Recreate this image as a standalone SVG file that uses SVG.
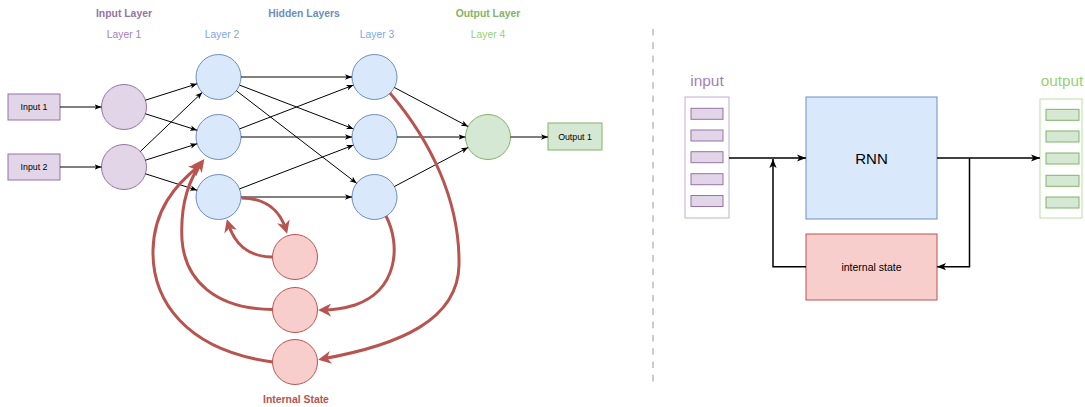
<svg xmlns="http://www.w3.org/2000/svg" width="1085" height="407" viewBox="0 0 1085 407">
<style>
text{font-family:"Liberation Sans",Arial,sans-serif;text-anchor:middle}
.pu{fill:#e1d5e7;stroke:#9673a6;stroke-width:1}
.bl{fill:#dae8fc;stroke:#6c8ebf;stroke-width:1}
.gr{fill:#d5e8d4;stroke:#82b366;stroke-width:1}
.rd{fill:#f8cecc;stroke:#b85450;stroke-width:1}
.e{fill:none;stroke:#000;stroke-width:1;marker-end:url(#ab)}
.r{fill:none;stroke:#b85450;stroke-width:3;marker-end:url(#ar)}
.k{fill:none;stroke:#000;stroke-width:1.5}
.ka{fill:none;stroke:#000;stroke-width:1.5;marker-end:url(#ak)}
.h{font-weight:bold;font-size:10.4px}
.l{font-size:10.3px}
</style>
<defs>
<marker id="ab" viewBox="0 0 10 10" markerUnits="userSpaceOnUse" markerWidth="7" markerHeight="7" refX="10" refY="5" orient="auto"><path d="M0,1 L10,5 L0,9 L2.5,5 z" fill="#000"/></marker>
<marker id="ak" viewBox="0 0 10 10" markerUnits="userSpaceOnUse" markerWidth="9" markerHeight="9" refX="10" refY="5" orient="auto"><path d="M0,1 L10,5 L0,9 L2.5,5 z" fill="#000"/></marker>
<marker id="ar" viewBox="0 0 10 10" markerUnits="userSpaceOnUse" markerWidth="13" markerHeight="13" refX="7" refY="5" orient="auto"><path d="M0,0 L10,5 L0,10 L3,5 z" fill="#b85450"/></marker>
</defs>

<g id="labels">
<text class="h" x="124" y="17" fill="#9673a6">Input Layer</text>
<text class="l" x="124" y="38" fill="#a680b8">Layer 1</text>
<text class="h" x="304" y="17" fill="#6c8ebf">Hidden Layers</text>
<text class="l" x="222" y="38" fill="#7ea6e0">Layer 2</text>
<text class="l" x="377" y="38" fill="#7ea6e0">Layer 3</text>
<text class="h" x="488" y="17" fill="#82b366">Output Layer</text>
<text class="l" x="488" y="38" fill="#97d077">Layer 4</text>
<text class="h" x="296" y="403" fill="#b85450">Internal State</text>
</g>

<g id="input1"><rect class="pu" x="8" y="94" width="52" height="26"/><text x="34" y="110" font-size="8.8">Input 1</text></g>
<g id="input2"><rect class="pu" x="8" y="154" width="52" height="26"/><text x="34" y="170" font-size="8.8">Input 2</text></g>
<g id="l1n1"><circle class="pu" cx="124" cy="107" r="22.5"/></g>
<g id="l1n2"><circle class="pu" cx="124" cy="167" r="22.5"/></g>
<g id="l2n1"><circle class="bl" cx="218.5" cy="77" r="22.5"/></g>
<g id="l2n2"><circle class="bl" cx="218.5" cy="137" r="22.5"/></g>
<g id="l2n3"><circle class="bl" cx="218.5" cy="197" r="22.5"/></g>
<g id="l3n1"><circle class="bl" cx="374.5" cy="77" r="22.5"/></g>
<g id="l3n2"><circle class="bl" cx="374.5" cy="137" r="22.5"/></g>
<g id="l3n3"><circle class="bl" cx="374.5" cy="197" r="22.5"/></g>
<g id="l4n1"><circle class="gr" cx="488" cy="137" r="22.5"/></g>
<g id="output1"><rect class="gr" x="548" y="123" width="54" height="27"/><text x="575" y="140" font-size="8.8">Output 1</text></g>
<g id="is1"><circle class="rd" cx="295" cy="257" r="22.5"/></g>
<g id="is2"><circle class="rd" cx="295" cy="310" r="22.5"/></g>
<g id="is3"><circle class="rd" cx="295" cy="362" r="22.5"/></g>

<g id="divider"><line x1="653" y1="29" x2="653" y2="388" stroke="#cccccc" stroke-width="2" stroke-dasharray="6.6 6.7"/></g>

<g id="inputVec">
<text x="707" y="86" font-size="15.5" fill="#a680b8">input</text>
<rect x="685" y="97" width="44" height="121" fill="#fff" stroke="#c3abd0" stroke-width="1"/>
<rect class="pu" x="691" y="108.3" width="32" height="11"/>
<rect class="pu" x="691" y="130" width="32" height="11"/>
<rect class="pu" x="691" y="151.7" width="32" height="11"/>
<rect class="pu" x="691" y="173.7" width="32" height="11"/>
<rect class="pu" x="691" y="195.5" width="32" height="11"/>
</g>
<g id="rnn"><rect class="bl" x="806" y="97" width="131" height="122"/><text x="871.5" y="163.5" font-size="15" fill="#000">RNN</text></g>
<g id="internalState"><rect class="rd" x="806" y="234" width="131" height="66"/><text x="871.5" y="271" font-size="10.5" fill="#000">internal state</text></g>
<g id="outputVec">
<text x="1062" y="86" font-size="15.3" fill="#97d077">output</text>
<rect x="1040" y="99" width="42" height="119" fill="#fff" stroke="#b9e0a5" stroke-width="1"/>
<rect class="gr" x="1046" y="109.3" width="33" height="11"/>
<rect class="gr" x="1046" y="131" width="33" height="11"/>
<rect class="gr" x="1046" y="153" width="33" height="11"/>
<rect class="gr" x="1046" y="175.3" width="33" height="11"/>
<rect class="gr" x="1046" y="197" width="33" height="11"/>
</g>

<g id="connectors">
<line class="e" x1="60" y1="107" x2="101.5" y2="107"/>
<line class="e" x1="60" y1="167" x2="101.5" y2="167"/>
<line class="e" x1="145.4" y1="100.2" x2="197.1" y2="83.8"/>
<line class="e" x1="145.4" y1="113.8" x2="197.1" y2="130.2"/>
<line class="e" x1="140.3" y1="151.5" x2="202.2" y2="92.5"/>
<line class="e" x1="145.4" y1="160.2" x2="197.1" y2="143.8"/>
<line class="e" x1="145.4" y1="173.8" x2="197.1" y2="190.2"/>
<line class="e" x1="241" y1="77" x2="352" y2="77"/>
<line class="e" x1="239.5" y1="85.1" x2="353.5" y2="128.9"/>
<line class="e" x1="236.3" y1="90.7" x2="356.7" y2="183.3"/>
<line class="e" x1="239.5" y1="128.9" x2="353.5" y2="85.1"/>
<line class="e" x1="241" y1="137" x2="352" y2="137"/>
<line class="e" x1="239.5" y1="188.9" x2="353.5" y2="145.1"/>
<line class="e" x1="241" y1="197" x2="352" y2="197"/>
<line class="e" x1="394.4" y1="87.5" x2="468.1" y2="126.5"/>
<line class="e" x1="397" y1="137" x2="465.5" y2="137"/>
<line class="e" x1="394.4" y1="186.5" x2="468.1" y2="147.5"/>
<line class="e" x1="510.5" y1="137" x2="548" y2="137"/>

<path class="r" d="M241.5,198 C265,198 280,210 286,230"/>
<path class="r" d="M272.5,257 C248,257 234,243 228,223"/>
<path class="r" d="M272.7,309.5 C215,309 185,280 182,240 C180,203 190,178 202,162"/>
<path class="r" d="M272.7,362 C185,350 152,300 153,250 C154,210 175,185 199,166"/>
<path class="r" d="M386,216 C401,245 398,290 355,305 C342,309 332,310 322,310"/>
<path class="r" d="M390,93 C430,140 460,200 459,265 C458,320 400,345 322,359"/>

<line class="ka" x1="729" y1="158" x2="806" y2="158"/>
<line class="ka" x1="937" y1="158" x2="1040" y2="158"/>
<polyline class="ka" points="969.5,158 969.5,266.7 937,266.7"/>
<polyline class="ka" points="806,266.7 773,266.7 773,159"/>
</g>
</svg>
